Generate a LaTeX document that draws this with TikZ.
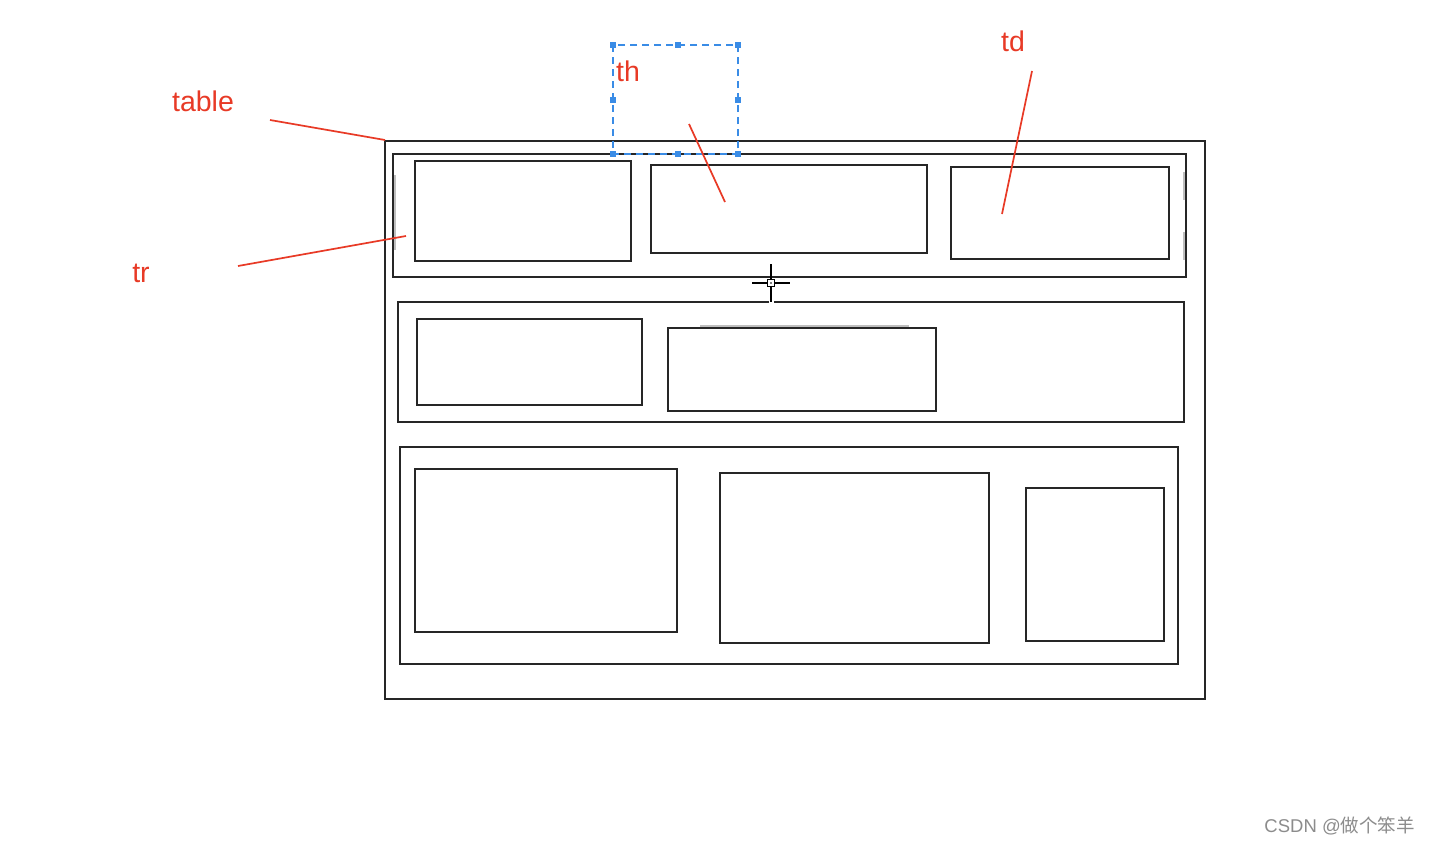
\documentclass[tikz,border=0pt]{standalone}
\usepackage{fontspec}
\setmainfont{Liberation Sans}
\newfontfamily\cjk{Noto Sans CJK SC}
\definecolor{lblred}{RGB}{232,58,38}
\definecolor{selblue}{RGB}{58,140,230}
\begin{document}
\begin{tikzpicture}[x=1pt,y=-1pt,
  boxline/.style={draw=black!85,line width=2.3pt},
  faint/.style={draw=black!25,line width=1.5pt},
  redline/.style={draw=lblred,line width=1.7pt},
  redlabel/.style={text=lblred,font=\fontsize{28.5}{32}\selectfont,inner sep=0pt},
  selbox/.style={draw=selblue,line width=1.7pt,dash pattern=on 7pt off 5pt},
  handle/.style={fill=selblue,minimum size=6pt,inner sep=0pt}]
\useasboundingbox (0,0) rectangle (1431,846);
\fill[white] (0,0) rectangle (1431,846);
% table
\draw[boxline] (385,141) rectangle (1205,699);
% row 1
\draw[boxline] (393,154) rectangle (1186,277);
\draw[boxline] (415,161) rectangle (631,261);
\draw[boxline] (651,165) rectangle (927,253);
\draw[boxline] (951,167) rectangle (1169,259);
% row 2
\draw[boxline] (398,302) rectangle (1184,422);
\draw[boxline] (417,319) rectangle (642,405);
\draw[boxline] (668,328) rectangle (936,411);
% row 3
\draw[boxline] (400,447) rectangle (1178,664);
\draw[boxline] (415,469) rectangle (677,632);
\draw[boxline] (720,473) rectangle (989,643);
\draw[boxline] (1026,488) rectangle (1164,641);
% faint traces
\draw[faint] (395,175) -- (395,250);
\draw[faint] (1184,172) -- (1184,200);
\draw[faint] (1184,232) -- (1184,260);
\draw[faint] (700,326) -- (909,326);
% crosshair
\fill[white] (768.5,298) rectangle (773.5,306);
\draw[black,line width=2.3pt] (752,283) -- (790,283);
\draw[black,line width=2.3pt] (771,264) -- (771,302);
\draw[black,line width=1.6pt,fill=white] (767.5,279.5) rectangle (774.5,286.5);
\fill[black] (771,283) circle (0.9pt);
% th selection
\draw[selbox] (613,45) rectangle (738,154);
\foreach \p in {(613,45),(678,45),(738,45),(613,100),(738,100),(613,154),(678,154),(738,154)}
  \node[handle] at \p {};
% labels
\node[redlabel] (ltable) at (203,101) {table};
\node[redlabel] (lth) at (628,71) {th};
\node[redlabel] (ltd) at (1013,41) {td};
\node[redlabel] (ltr) at (141,273) {tr};
% pointer ends
\coordinate (ta) at (270,120); \coordinate (tb) at (385,140);
\coordinate (ra) at (238,266); \coordinate (rb) at (406,236);
\coordinate (ha) at (689,124); \coordinate (hb) at (725,202);
\coordinate (da) at (1032,71); \coordinate (db) at (1002,214);
\draw[redline] (ta) -- (tb);
\draw[redline] (ra) -- (rb);
\draw[redline] (ha) -- (hb);
\draw[redline] (da) -- (db);
% watermark
\node[text=black!45,font=\fontsize{18.5}{20}\selectfont,anchor=east,inner sep=0pt] (wm) at (1415,826) {CSDN @{\cjk 做个笨羊}};
\end{tikzpicture}
\end{document}
